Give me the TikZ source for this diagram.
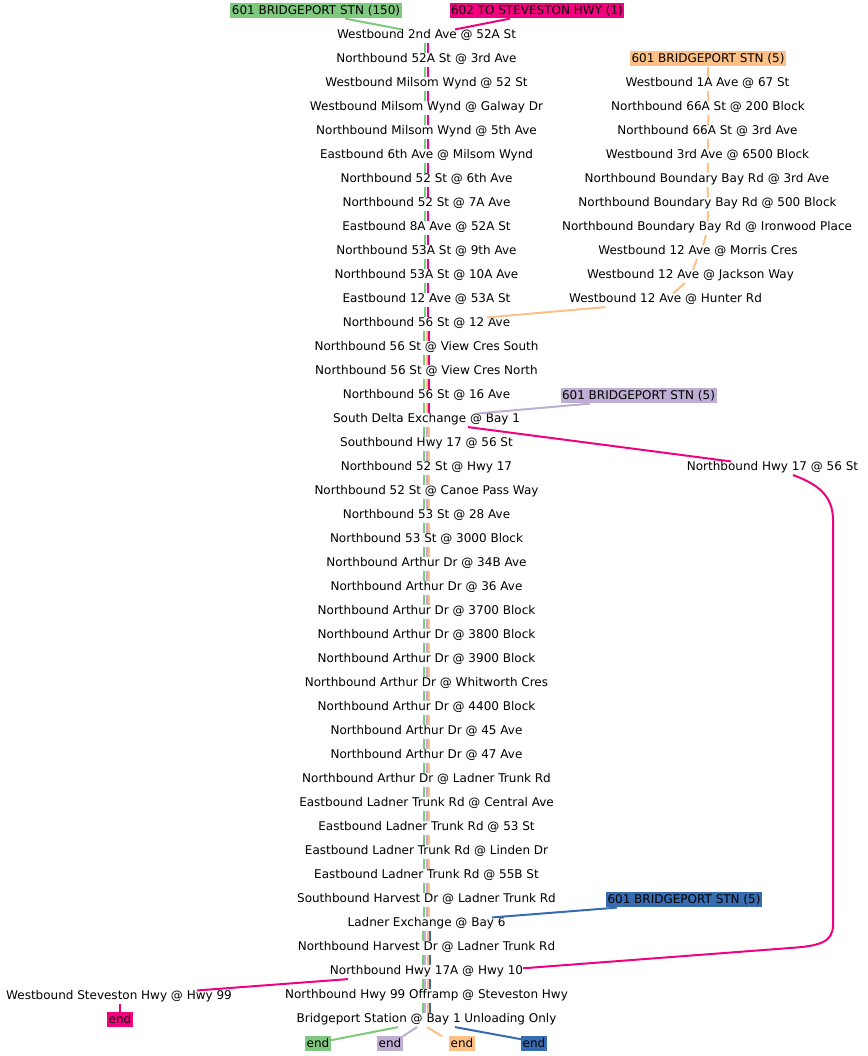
\documentclass[tikz,border=0pt]{standalone}
\usepackage{fontspec}
\setmainfont{DejaVu Sans}
\definecolor{rgreen}{HTML}{7FC97F}
\definecolor{rpink}{HTML}{F0027F}
\definecolor{rorange}{HTML}{FDC086}
\definecolor{rpurple}{HTML}{BEAED4}
\definecolor{rblue}{HTML}{386CB0}
\begin{document}
\begin{tikzpicture}[x=1pt,y=-1pt,font=\fontsize{12}{14}\selectfont,
  stop/.style={inner sep=0pt,text height=8.75pt,text depth=4.5pt,anchor=base},
  lbl/.style={inner xsep=1.5pt,inner ysep=0pt,text height=11pt,text depth=4pt,anchor=base},
  rt/.style={line width=2pt}]
\useasboundingbox (0,0) rectangle (867,1056);

% main column
\foreach \t [count=\i] in {
Westbound 2nd Ave @ 52A St,
Northbound 52A St @ 3rd Ave,
Westbound Milsom Wynd @ 52 St,
Westbound Milsom Wynd @ Galway Dr,
Northbound Milsom Wynd @ 5th Ave,
Eastbound 6th Ave @ Milsom Wynd,
Northbound 52 St @ 6th Ave,
Northbound 52 St @ 7A Ave,
Eastbound 8A Ave @ 52A St,
Northbound 53A St @ 9th Ave,
Northbound 53A St @ 10A Ave,
Eastbound 12 Ave @ 53A St,
Northbound 56 St @ 12 Ave,
Northbound 56 St @ View Cres South,
Northbound 56 St @ View Cres North,
Northbound 56 St @ 16 Ave,
South Delta Exchange @ Bay 1,
Southbound Hwy 17 @ 56 St,
Northbound 52 St @ Hwy 17,
Northbound 52 St @ Canoe Pass Way,
Northbound 53 St @ 28 Ave,
Northbound 53 St @ 3000 Block,
Northbound Arthur Dr @ 34B Ave,
Northbound Arthur Dr @ 36 Ave,
Northbound Arthur Dr @ 3700 Block,
Northbound Arthur Dr @ 3800 Block,
Northbound Arthur Dr @ 3900 Block,
Northbound Arthur Dr @ Whitworth Cres,
Northbound Arthur Dr @ 4400 Block,
Northbound Arthur Dr @ 45 Ave,
Northbound Arthur Dr @ 47 Ave,
Northbound Arthur Dr @ Ladner Trunk Rd,
Eastbound Ladner Trunk Rd @ Central Ave,
Eastbound Ladner Trunk Rd @ 53 St,
Eastbound Ladner Trunk Rd @ Linden Dr,
Eastbound Ladner Trunk Rd @ 55B St,
Southbound Harvest Dr @ Ladner Trunk Rd,
Ladner Exchange @ Bay 6,
Northbound Harvest Dr @ Ladner Trunk Rd,
Northbound Hwy 17A @ Hwy 10,
Northbound Hwy 99 Offramp @ Steveston Hwy,
Bridgeport Station @ Bay 1 Unloading Only}
{ \node[stop] (m\i) at (426.5,{38.4+24*(\i-1)}) {\t}; }

% right column
\node[stop] (r1) at (707.5,86.4) {Westbound 1A Ave @ 67 St};
\node[stop] (r2) at (708,110.4) {Northbound 66A St @ 200 Block};
\node[stop] (r3) at (707.5,134.4) {Northbound 66A St @ 3rd Ave};
\node[stop] (r4) at (707.5,158.4) {Westbound 3rd Ave @ 6500 Block};
\node[stop] (r5) at (707,182.4) {Northbound Boundary Bay Rd @ 3rd Ave};
\node[stop] (r6) at (707.5,206.4) {Northbound Boundary Bay Rd @ 500 Block};
\node[stop] (r7) at (707,230.4) {Northbound Boundary Bay Rd @ Ironwood Place};
\node[stop] (r8) at (698,254.4) {Westbound 12 Ave @ Morris Cres};
\node[stop] (r9) at (690.5,278.4) {Westbound 12 Ave @ Jackson Way};
\node[stop] (r10) at (665.5,302.4) {Westbound 12 Ave @ Hunter Rd};

\node[stop] (h17) at (772.5,470.4) {Northbound Hwy 17 @ 56 St};
\node[stop] (sv) at (119,999.4) {Westbound Steveston Hwy @ Hwy 99};

% labels
\node[lbl,fill=rgreen] (bG) at (316,14.4) {601 BRIDGEPORT STN (150)};
\node[lbl,fill=rpink] (bP) at (537,14.4) {602 TO STEVESTON HWY (1)};
\node[lbl,fill=rorange] (bO) at (708,62.4) {601 BRIDGEPORT STN (5)};
\node[lbl,fill=rpurple] (bU) at (638.5,399.4) {601 BRIDGEPORT STN (5)};
\node[lbl,fill=rblue] (bB) at (684,903.4) {601 BRIDGEPORT STN (5)};
\node[lbl,fill=rpink] (eP) at (120,1023.4) {end};
\node[lbl,fill=rgreen] (eG) at (318,1047.4) {end};
\node[lbl,fill=rpurple] (eU) at (390,1047.4) {end};
\node[lbl,fill=rorange] (eO) at (462,1047.4) {end};
\node[lbl,fill=rblue] (eB) at (534,1047.4) {end};

% trunk segments
\foreach \i in {1,...,12}{
  \pgfmathtruncatemacro\j{\i+1}
  \draw[rt,rgreen] ([xshift=-1.2pt]m\i.south) -- ([xshift=-1.2pt]m\j.north);
  \draw[rt,rpink] ([xshift=1.2pt]m\i.south) -- ([xshift=1.2pt]m\j.north);
}
\foreach \i in {13,...,16}{
  \pgfmathtruncatemacro\j{\i+1}
  \draw[rt,rgreen] ([xshift=-2.1pt]m\i.south) -- ([xshift=-2.1pt]m\j.north);
  \draw[rt,rorange] (m\i.south) -- (m\j.north);
  \draw[rt,rpink] ([xshift=2.1pt]m\i.south) -- ([xshift=2.1pt]m\j.north);
}
\foreach \i in {17,...,37}{
  \pgfmathtruncatemacro\j{\i+1}
  \draw[rt,rgreen] ([xshift=-2.1pt]m\i.south) -- ([xshift=-2.1pt]m\j.north);
  \draw[rt,rpurple] (m\i.south) -- (m\j.north);
  \draw[rt,rorange] ([xshift=2.1pt]m\i.south) -- ([xshift=2.1pt]m\j.north);
}
\foreach \i in {38,...,41}{
  \pgfmathtruncatemacro\j{\i+1}
  \draw[rt,rgreen] ([xshift=-3.15pt]m\i.south) -- ([xshift=-3.15pt]m\j.north);
  \draw[rt,rpurple] ([xshift=-1.05pt]m\i.south) -- ([xshift=-1.05pt]m\j.north);
  \draw[rt,rorange] ([xshift=1.05pt]m\i.south) -- ([xshift=1.05pt]m\j.north);
  \draw[rt,rblue] ([xshift=3.15pt]m\i.south) -- ([xshift=3.15pt]m\j.north);
}

% branch starts
\draw[rt,rgreen] ([xshift=29pt]bG.south) -- ([xshift=-24.5pt]m1.north);
\draw[rt,rpink] ([xshift=-27pt]bP.south) -- ([xshift=28.5pt]m1.north);

% orange branch
\draw[rt,rorange] (bO.south) -- ([xshift=0.5pt]r1.north);
\foreach \i in {1,...,6}{
  \pgfmathtruncatemacro\j{\i+1}
  \draw[rt,rorange] ([xshift=0.5pt]r\i.south) -- ([xshift=0.5pt]r\j.north);
}
\draw[rt,rorange] ([xshift=-1pt]r7.south) -- ([xshift=5pt]r8.north);
\draw[rt,rorange] ([xshift=-1pt]r8.south) -- ([xshift=2.5pt]r9.north);
\draw[rt,rorange] ([xshift=-5.5pt]r9.south) -- ([xshift=7.5pt]r10.north);
\draw[rt,rorange] ([xshift=-60.5pt]r10.south) -- ([xshift=60.5pt]m13.north);

% purple branch
\draw[rt,rpurple] ([xshift=-48.5pt]bU.south) -- ([xshift=51.5pt]m17.north);

% pink detour
\draw[rt,rpink] ([xshift=41.5pt]m17.south) -- ([xshift=-41.5pt]h17.north);
\draw[rt,rpink] ([xshift=20.5pt]h17.south) .. controls (818,484) and (833,496) .. (833,520)
  -- (833,925) .. controls (833,942) and (820,946) .. (790,948) -- ([yshift=4pt]m40.east);
\draw[rt,rpink] ([xshift=-78.5pt]m40.south) -- ([xshift=78pt]sv.north);
\draw[rt,rpink] ([xshift=1pt]sv.south) -- (eP.north);

% blue branch
\draw[rt,rblue] ([xshift=-67pt]bB.south) -- ([xshift=65.5pt]m38.north);

% ends
\draw[rt,rgreen] ([xshift=-28.5pt]m42.south) -- ([yshift=-4pt]eG.north east);
\draw[rt,rpurple] ([xshift=-9.5pt]m42.south) -- (eU.north east);
\draw[rt,rorange] ([xshift=0.5pt]m42.south) -- ([xshift=-7pt]eO.north west);
\draw[rt,rblue] ([xshift=28.5pt]m42.south) -- ([yshift=-3pt]eB.north west);
\end{tikzpicture}
\end{document}
